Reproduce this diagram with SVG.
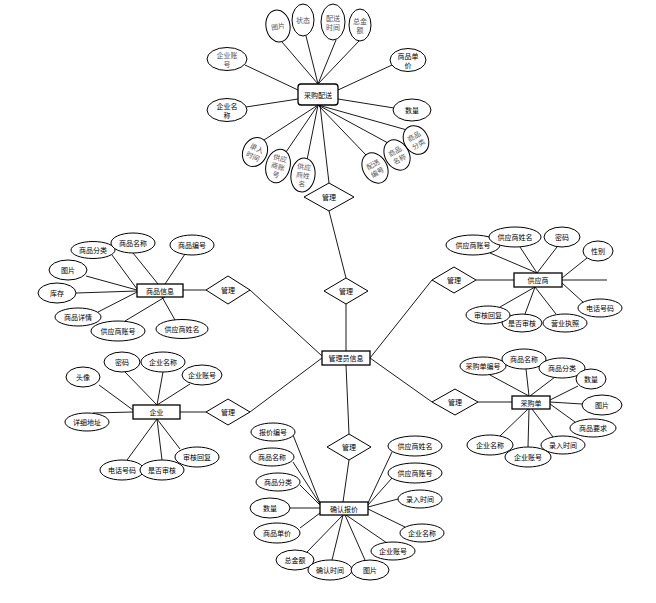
<svg xmlns="http://www.w3.org/2000/svg" width="656" height="603" viewBox="0 0 656 603">
<style>
.e{fill:#fff;stroke:#000;stroke-width:1}
.r{fill:#fff;stroke:#000;stroke-width:1.3}
.d{fill:#fff;stroke:#000;stroke-width:1}
.l line{stroke:#000;stroke-width:0.9}
text{font-family:"Noto Sans CJK SC","Noto Sans",sans-serif;font-size:7px;text-anchor:middle;dominant-baseline:central;fill:#000}
.g{font-size:7px;fill:#555}
</style>
<rect width="656" height="603" fill="#fff"/>
<g id="connectors" class="l">
<line x1="318" y1="84" x2="282" y2="42"/>
<line x1="318" y1="84" x2="306" y2="36"/>
<line x1="318" y1="84" x2="336" y2="40"/>
<line x1="318" y1="84" x2="359" y2="41"/>
<line x1="245" y1="65" x2="298" y2="90"/>
<line x1="246" y1="107" x2="298" y2="99"/>
<line x1="392" y1="65" x2="338" y2="90"/>
<line x1="394" y1="108" x2="338" y2="99"/>
<line x1="318" y1="105" x2="264" y2="140"/>
<line x1="318" y1="105" x2="286" y2="152"/>
<line x1="318" y1="105" x2="307" y2="160"/>
<line x1="318" y1="105" x2="366" y2="155"/>
<line x1="318" y1="105" x2="388" y2="143"/>
<line x1="318" y1="105" x2="407" y2="130"/>
<line x1="320" y1="105" x2="329" y2="183"/>
<line x1="329" y1="211" x2="346" y2="278"/>
<line x1="346" y1="304" x2="346" y2="351"/>
<line x1="183" y1="290" x2="206" y2="290"/>
<line x1="250" y1="290" x2="322" y2="356"/>
<line x1="112" y1="255" x2="137" y2="289"/>
<line x1="133" y1="253" x2="158" y2="284"/>
<line x1="185" y1="254" x2="165" y2="284"/>
<line x1="86" y1="276" x2="137" y2="290"/>
<line x1="76" y1="293" x2="137" y2="291"/>
<line x1="98" y1="312" x2="137" y2="292"/>
<line x1="125" y1="321" x2="165" y2="297"/>
<line x1="175" y1="320" x2="162" y2="297"/>
<line x1="180" y1="412" x2="206" y2="412"/>
<line x1="250" y1="412" x2="322" y2="358"/>
<line x1="99" y1="385" x2="133" y2="410"/>
<line x1="125" y1="372" x2="157" y2="405"/>
<line x1="163" y1="372" x2="157" y2="405"/>
<line x1="190" y1="384" x2="157" y2="405"/>
<line x1="93" y1="413" x2="133" y2="412"/>
<line x1="127" y1="460" x2="157" y2="419"/>
<line x1="162" y1="460" x2="157" y2="419"/>
<line x1="180" y1="449" x2="157" y2="419"/>
<line x1="370" y1="358" x2="432" y2="280"/>
<line x1="476" y1="280" x2="514" y2="280"/>
<line x1="562" y1="280" x2="607" y2="280"/>
<line x1="490" y1="253" x2="537" y2="273"/>
<line x1="520" y1="247" x2="537" y2="273"/>
<line x1="557" y1="247" x2="537" y2="273"/>
<line x1="587" y1="258" x2="562" y2="278"/>
<line x1="584" y1="303" x2="562" y2="283"/>
<line x1="556" y1="314" x2="535" y2="287"/>
<line x1="525" y1="314" x2="535" y2="287"/>
<line x1="500" y1="307" x2="535" y2="287"/>
<line x1="370" y1="358" x2="432" y2="402"/>
<line x1="478" y1="402" x2="512" y2="402"/>
<line x1="490" y1="375" x2="529" y2="396"/>
<line x1="526" y1="369" x2="529" y2="396"/>
<line x1="555" y1="377" x2="530" y2="396"/>
<line x1="578" y1="386" x2="550" y2="400"/>
<line x1="582" y1="404" x2="550" y2="402"/>
<line x1="575" y1="422" x2="550" y2="404"/>
<line x1="553" y1="437" x2="532" y2="409"/>
<line x1="528" y1="447" x2="529" y2="409"/>
<line x1="500" y1="436" x2="528" y2="409"/>
<line x1="346" y1="365" x2="349" y2="434"/>
<line x1="349" y1="460" x2="343" y2="502"/>
<line x1="293" y1="435" x2="320" y2="503"/>
<line x1="293" y1="462" x2="320" y2="504"/>
<line x1="300" y1="485" x2="320" y2="505"/>
<line x1="290" y1="508" x2="320" y2="508"/>
<line x1="300" y1="528" x2="320" y2="513"/>
<line x1="307" y1="552" x2="343" y2="515"/>
<line x1="332" y1="560" x2="343" y2="515"/>
<line x1="365" y1="560" x2="345" y2="515"/>
<line x1="387" y1="543" x2="346" y2="515"/>
<line x1="405" y1="527" x2="368" y2="509"/>
<line x1="398" y1="499" x2="368" y2="507"/>
<line x1="392" y1="478" x2="368" y2="505"/>
<line x1="392" y1="452" x2="368" y2="503"/>
</g>
<g id="caigoupeisong">
<rect class="r" x="298" y="84" width="40" height="21" rx="3"/>
<text x="318" y="94.5">采购配送</text>
</g>
<g id="pc-tupian" transform="translate(278,26) rotate(-10)"><ellipse class="e" rx="12" ry="16"/><text class="g">图片</text></g>
<g id="pc-zhuangtai" transform="translate(303,20)"><ellipse class="e" rx="11" ry="16"/><text class="g">状态</text></g>
<g id="pc-peisongshijian" transform="translate(333,22)"><ellipse class="e" rx="12" ry="18"/><text class="g" y="-4.5">配送</text><text class="g" y="4.5">时间</text></g>
<g id="pc-zongjine" transform="translate(360,25)"><ellipse class="e" rx="11" ry="16"/><text class="g" y="-4.5">总金</text><text class="g" y="4.5">额</text></g>
<g id="pc-qiyezhanghao" transform="translate(227,59)"><ellipse class="e" rx="20" ry="11.5"/><text class="g" y="-4.5">企业账</text><text class="g" y="4.5">号</text></g>
<g id="pc-shangpindanjia" transform="translate(408,60)"><ellipse class="e" rx="18" ry="11.5"/><text y="-4.5">商品单</text><text y="4.5">价</text></g>
<g id="pc-qiyemingcheng" transform="translate(227,110)"><ellipse class="e" rx="20" ry="11.5"/><text y="-4.5">企业名</text><text y="4.5">称</text></g>
<g id="pc-shuliang" transform="translate(412,110)"><ellipse class="e" rx="19" ry="11"/><text>数量</text></g>
<g id="pc-lurushijian" transform="translate(255,152) rotate(25)"><ellipse class="e" rx="12" ry="15"/><text class="g" y="-4.5">录入</text><text class="g" y="4.5">时间</text></g>
<g id="pc-gongyingshangzhanghao" transform="translate(278,166) rotate(15)"><ellipse class="e" rx="12" ry="17"/><text class="g" y="-8.5">供应</text><text class="g" y="0">商账</text><text class="g" y="8.5">号</text></g>
<g id="pc-gongyingshangxingming" transform="translate(303,175) rotate(8)"><ellipse class="e" rx="12" ry="17"/><text class="g" y="-8.5">供应</text><text class="g" y="0">商姓</text><text class="g" y="8.5">名</text></g>
<g id="pc-peisongbianhao" transform="translate(375,168) rotate(-30)"><ellipse class="e" rx="12" ry="16"/><text class="g" y="-4.5">配送</text><text class="g" y="4.5">编号</text></g>
<g id="pc-shangpinmingcheng" transform="translate(397,155) rotate(-30)"><ellipse class="e" rx="12" ry="16"/><text class="g" y="-4.5">商品</text><text class="g" y="4.5">名称</text></g>
<g id="pc-shangpinfenlei" transform="translate(416,140) rotate(-30)"><ellipse class="e" rx="12" ry="15"/><text class="g" y="-4.5">商品</text><text class="g" y="4.5">分类</text></g>
<g id="diamond-top"><polygon class="d" points="304,197 329,183 354,197 329,211"/><text x="329" y="197">管理</text></g>
<g id="diamond-mid"><polygon class="d" points="324,291 346,278 368,291 346,304"/><text x="346" y="291">管理</text></g>
<g id="admin"><rect class="r" x="322" y="351" width="48" height="14"/><text x="346" y="358">管理员信息</text></g>
<g id="shangpinxinxi"><rect class="r" x="137" y="284" width="46" height="13"/><text x="160" y="290.5">商品信息</text></g>
<g id="diamond-l1"><polygon class="d" points="206,290 228,276 250,290 228,304"/><text x="228" y="290">管理</text></g>
<g id="sp-fenlei"><ellipse class="e" cx="93" cy="250" rx="22" ry="8.5"/><text x="93" y="250">商品分类</text></g>
<g id="sp-mingcheng"><ellipse class="e" cx="133" cy="243" rx="22" ry="10"/><text x="133" y="243">商品名称</text></g>
<g id="sp-bianhao"><ellipse class="e" cx="192" cy="245" rx="22" ry="10"/><text x="192" y="245">商品编号</text></g>
<g id="sp-tupian"><ellipse class="e" cx="68" cy="270" rx="19" ry="10"/><text x="68" y="270">图片</text></g>
<g id="sp-kucun"><ellipse class="e" cx="57" cy="293" rx="19" ry="10"/><text x="57" y="293">库存</text></g>
<g id="sp-xiangqing"><ellipse class="e" cx="78" cy="317" rx="23" ry="9"/><text x="78" y="317">商品详情</text></g>
<g id="sp-gyszh"><ellipse class="e" cx="118" cy="331" rx="27" ry="10"/><text x="118" y="331">供应商账号</text></g>
<g id="sp-gysxm"><ellipse class="e" cx="182" cy="329" rx="26" ry="9.5"/><text x="182" y="329">供应商姓名</text></g>
<g id="qiye"><rect class="r" x="133" y="405" width="47" height="14"/><text x="156.5" y="412">企业</text></g>
<g id="diamond-l2"><polygon class="d" points="206,412 228,399 250,412 228,425"/><text x="228" y="412">管理</text></g>
<g id="qy-touxiang"><ellipse class="e" cx="83" cy="377" rx="17" ry="10"/><text x="83" y="377">头像</text></g>
<g id="qy-mima"><ellipse class="e" cx="122" cy="362" rx="18" ry="10"/><text x="122" y="362">密码</text></g>
<g id="qy-mingcheng"><ellipse class="e" cx="163" cy="362" rx="22" ry="10"/><text x="163" y="362">企业名称</text></g>
<g id="qy-zhanghao"><ellipse class="e" cx="202" cy="375" rx="20" ry="10"/><text x="202" y="375">企业账号</text></g>
<g id="qy-dizhi"><ellipse class="e" cx="87" cy="422" rx="22" ry="9"/><text x="87" y="422">详细地址</text></g>
<g id="qy-dianhua"><ellipse class="e" cx="122" cy="470" rx="22" ry="10"/><text x="122" y="470">电话号码</text></g>
<g id="qy-shenhe"><ellipse class="e" cx="162" cy="470" rx="22" ry="10"/><text x="162" y="470">是否审核</text></g>
<g id="qy-huifu"><ellipse class="e" cx="197" cy="457" rx="22" ry="10"/><text x="197" y="457">审核回复</text></g>
<g id="gongyingshang"><rect class="r" x="514" y="273" width="48" height="14"/><text x="538" y="280">供应商</text></g>
<g id="diamond-r1"><polygon class="d" points="432,280 454,267 476,280 454,293"/><text x="454" y="280">管理</text></g>
<g id="gys-zhanghao"><ellipse class="e" cx="473" cy="245" rx="27" ry="10"/><text x="473" y="245">供应商账号</text></g>
<g id="gys-xingming"><ellipse class="e" cx="515" cy="237" rx="26" ry="10"/><text x="515" y="237">供应商姓名</text></g>
<g id="gys-mima"><ellipse class="e" cx="562" cy="237" rx="18" ry="10"/><text x="562" y="237">密码</text></g>
<g id="gys-xingbie"><ellipse class="e" cx="598" cy="251" rx="15" ry="10"/><text x="598" y="251">性别</text></g>
<g id="gys-dianhua"><ellipse class="e" cx="600" cy="308" rx="22" ry="9"/><text x="600" y="308">电话号码</text></g>
<g id="gys-zhizhao"><ellipse class="e" cx="565" cy="323" rx="22" ry="9"/><text x="565" y="323">营业执照</text></g>
<g id="gys-shenhe"><ellipse class="e" cx="522" cy="323" rx="20" ry="9"/><text x="522" y="323">是否审核</text></g>
<g id="gys-huifu"><ellipse class="e" cx="488" cy="315" rx="22" ry="9"/><text x="488" y="315">审核回复</text></g>
<g id="caigoudan"><rect class="r" x="512" y="396" width="38" height="13"/><text x="531" y="402.5">采购单</text></g>
<g id="diamond-r2"><polygon class="d" points="432,402 455,389 478,402 455,415"/><text x="455" y="402">管理</text></g>
<g id="cgd-bianhao"><ellipse class="e" cx="483" cy="366" rx="23" ry="9"/><text x="483" y="366">采购单编号</text></g>
<g id="cgd-mingcheng"><ellipse class="e" cx="524" cy="359" rx="22" ry="10"/><text x="524" y="359">商品名称</text></g>
<g id="cgd-fenlei"><ellipse class="e" cx="562" cy="368" rx="23" ry="10"/><text x="562" y="368">商品分类</text></g>
<g id="cgd-shuliang"><ellipse class="e" cx="591" cy="379" rx="15" ry="10"/><text x="591" y="379">数量</text></g>
<g id="cgd-tupian"><ellipse class="e" cx="602" cy="405" rx="20" ry="10"/><text x="602" y="405">图片</text></g>
<g id="cgd-yaoqiu"><ellipse class="e" cx="593" cy="428" rx="23" ry="9"/><text x="593" y="428">商品要求</text></g>
<g id="cgd-lurushijian"><ellipse class="e" cx="563" cy="445" rx="22" ry="9"/><text x="563" y="445">录入时间</text></g>
<g id="cgd-qyzh"><ellipse class="e" cx="528" cy="457" rx="23" ry="10"/><text x="528" y="457">企业账号</text></g>
<g id="cgd-qymc"><ellipse class="e" cx="490" cy="445" rx="23" ry="10"/><text x="490" y="445">企业名称</text></g>
<g id="diamond-bottom"><polygon class="d" points="327,447 349,434 371,447 349,460"/><text x="349" y="447">管理</text></g>
<g id="querenbaojia"><rect class="r" x="320" y="502" width="48" height="13"/><text x="344" y="508.5">确认报价</text></g>
<g id="bj-bianhao"><ellipse class="e" cx="273" cy="432" rx="22" ry="9"/><text x="273" y="432">报价编号</text></g>
<g id="bj-mingcheng"><ellipse class="e" cx="272" cy="457" rx="22" ry="9"/><text x="272" y="457">商品名称</text></g>
<g id="bj-fenlei"><ellipse class="e" cx="278" cy="482" rx="22" ry="9"/><text x="278" y="482">商品分类</text></g>
<g id="bj-shuliang"><ellipse class="e" cx="270" cy="508" rx="20" ry="10"/><text x="270" y="508">数量</text></g>
<g id="bj-danjia"><ellipse class="e" cx="277" cy="533" rx="23" ry="10"/><text x="277" y="533">商品单价</text></g>
<g id="bj-zongjine"><ellipse class="e" cx="295" cy="560" rx="19" ry="10"/><text x="295" y="560">总金额</text></g>
<g id="bj-quereshijian"><ellipse class="e" cx="330" cy="570" rx="22" ry="10"/><text x="330" y="570">确认时间</text></g>
<g id="bj-tupian"><ellipse class="e" cx="370" cy="570" rx="19" ry="10"/><text x="370" y="570">图片</text></g>
<g id="bj-qyzh"><ellipse class="e" cx="393" cy="551" rx="22" ry="9"/><text x="393" y="551">企业账号</text></g>
<g id="bj-qymc"><ellipse class="e" cx="422" cy="533" rx="22" ry="9"/><text x="422" y="533">企业名称</text></g>
<g id="bj-lurushijian"><ellipse class="e" cx="420" cy="499" rx="22" ry="9"/><text x="420" y="499">录入时间</text></g>
<g id="bj-gyszh"><ellipse class="e" cx="415" cy="473" rx="27" ry="10"/><text x="415" y="473">供应商账号</text></g>
<g id="bj-gysxm"><ellipse class="e" cx="415" cy="446" rx="27" ry="10"/><text x="415" y="446">供应商姓名</text></g>
</svg>
